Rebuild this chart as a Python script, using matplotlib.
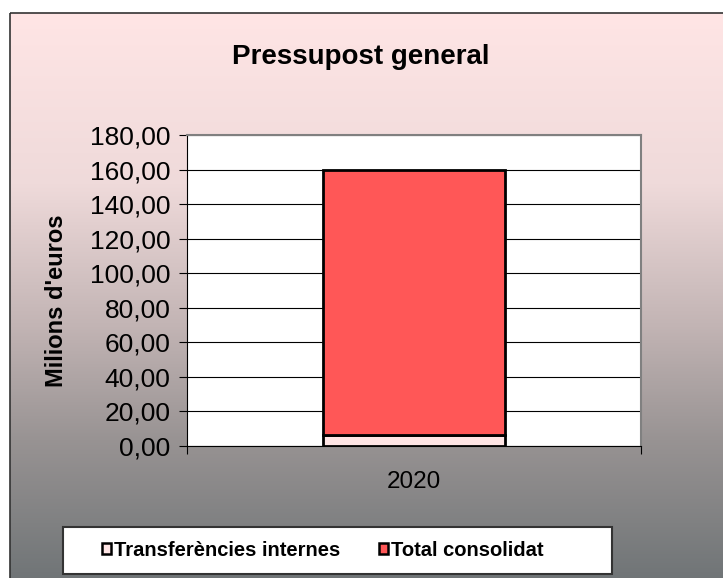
import numpy as np
import matplotlib.pyplot as plt
from matplotlib.patches import Rectangle
from matplotlib.colors import LinearSegmentedColormap

# data
years = ["2020"]
transferencies = [6.4]
consolidat = [153.6]
y_ticks = [0, 20, 40, 60, 80, 100, 120, 140, 160, 180]
y_labels = [("%.2f" % v).replace(".", ",") for v in y_ticks]

W, H = 723, 578
FONT = "Liberation Sans"
fig = plt.figure(figsize=(W / 100, H / 100), dpi=100)
fig.patch.set_facecolor("white")

# background gradient + outer frame + legend box (pixel coords)
bg = fig.add_axes([0, 0, 1, 1], zorder=0)
cmap = LinearSegmentedColormap.from_list(
    "bg", [(0, "#ffe5e5"), (0.3, "#efdada"), (0.55, "#c2b4b4"),
           (0.75, "#989393"), (1, "#6f7476")])
grad = np.linspace(0, 1, 256).reshape(-1, 1)
bg.imshow(grad, aspect="auto", cmap=cmap, extent=[10, W + 5, H + 5, 13])
bg.add_patch(Rectangle((10, 13), W, H, fill=False, edgecolor="#333333", lw=1.2))
bg.add_patch(Rectangle((63, 527), 549, 47, facecolor="white",
                       edgecolor="#333333", lw=1.5))
bg.set_xlim(0, W)
bg.set_ylim(H, 0)
bg.axis("off")

# plot area in pixels
x0, x1, y0, y1 = 187, 641, 135, 446
ax = fig.add_axes([x0 / W, 1 - y1 / H, (x1 - x0) / W, (y1 - y0) / H], zorder=1)
ax.set_facecolor("white")

x = np.arange(len(years))
ax.bar(x, transferencies, width=0.4, color="#ffe5e5", edgecolor="black", lw=2,
       label="Transferències internes", zorder=3)
ax.bar(x, consolidat, width=0.4, bottom=transferencies, color="#ff5757",
       edgecolor="black", lw=2, label="Total consolidat", zorder=3)

ax.set_xlim(-0.5, 0.5)
ax.set_ylim(0, 180)
ax.set_yticks(y_ticks)
ax.set_yticklabels(y_labels, fontsize=19, family=FONT)
ax.yaxis.grid(True, color="black", lw=0.8)
ax.set_axisbelow(True)
ax.set_xticks([-0.5, 0.5])
ax.set_xticklabels(["", ""])
ax.set_xticks(x, minor=True)
ax.set_xticklabels(years, minor=True, fontsize=17.5, family=FONT)
ax.tick_params(axis="x", which="minor", length=0, pad=18)
ax.tick_params(axis="x", which="major", length=6, direction="out", color="black")
ax.tick_params(axis="y", length=6, direction="out", color="black", pad=6)
ax.spines["left"].set_color("black")
ax.spines["bottom"].set_color("black")
ax.spines["top"].set_color("#808080")
ax.spines["right"].set_color("#808080")
ax.spines["top"].set_linewidth(1.5)
ax.spines["right"].set_linewidth(1.5)

fig.text(57 / W, 1 - 301 / H, "Milions d'euros", rotation=90, ha="center",
         va="center", fontsize=17, fontweight="bold", family=FONT)
fig.text(361 / W, 1 - 57 / H, "Pressupost general", ha="center", va="center",
         fontsize=20, fontweight="bold", family=FONT)

# legend
handles, labels = ax.get_legend_handles_labels()
leg = fig.legend(handles, labels, loc="center", ncol=2,
                 bbox_to_anchor=(323 / W, 1 - 550 / H),
                 prop={"family": FONT, "weight": "bold", "size": 14.5},
                 frameon=False,
                 handlelength=0.45, handleheight=0.45, handletextpad=0.15,
                 columnspacing=1.9, borderpad=0, borderaxespad=0)
for h in leg.legend_handles:
    h.set_linewidth(1.8)
leg.set_zorder(5)

fig.savefig("out.png", dpi=100)
